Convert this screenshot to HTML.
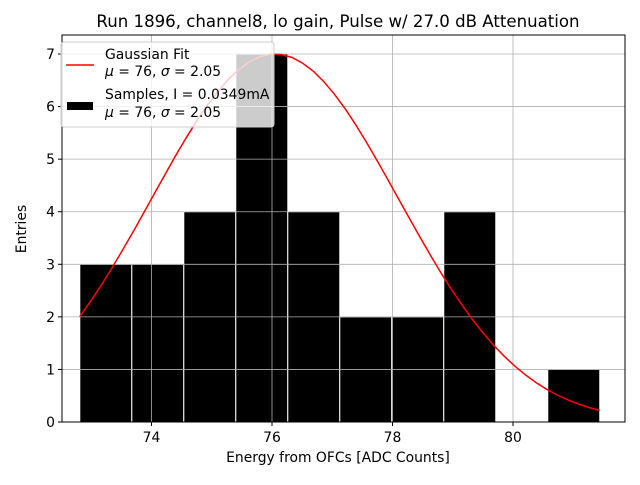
<!DOCTYPE html>
<html><head><meta charset="utf-8"><style>
body{margin:0;background:#fff;}
svg text{font-family:"DejaVu Sans","Liberation Sans",sans-serif;fill:#000;}
</style></head><body>
<svg id="chart" width="640" height="480" viewBox="0 0 640 480" xmlns="http://www.w3.org/2000/svg">
<rect width="640" height="480" fill="#fff"/>
<text x="338" y="27" font-size="16.6" text-anchor="middle">Run 1896, channel8, lo gain, Pulse w/ 27.0 dB Attenuation</text>
<g id="bars"></g>
<g id="grid"></g>
<g id="curve"></g>
<rect x="62" y="35" width="563" height="387" fill="none" stroke="#000" stroke-width="1"/>
<g id="ticks"></g>
<text x="338" y="462" font-size="13.9" text-anchor="middle">Energy from OFCs [ADC Counts]</text>
<text x="26" y="229" font-size="13.9" text-anchor="middle" transform="rotate(-90 26 229)">Entries</text>
<g>
<rect x="61" y="42" width="213" height="85" rx="3" fill="#fff" fill-opacity="0.8" stroke="#ccc" stroke-width="1"/>
<line x1="66" y1="65" x2="94" y2="65" stroke="red" stroke-width="1.5"/>
<text x="105" y="59" font-size="13.9">Gaussian Fit</text>
<text x="105" y="76" font-size="13.9"><tspan font-style="italic">μ</tspan> = 76, <tspan font-style="italic">σ</tspan> = 2.05</text>
<rect x="67" y="102" width="26" height="8" fill="#000"/>
<text x="105" y="99" font-size="13.9">Samples, I = 0.0349mA</text>
<text x="105" y="117" font-size="13.9"><tspan font-style="italic">μ</tspan> = 76, <tspan font-style="italic">σ</tspan> = 2.05</text>
</g>
</svg>
<script>
const binStart = 72.81;
const binWidth = 0.863;
const counts = [3,3,4,7,4,2,2,4,0,1];
const xTicks = [74,76,78,80];
const yTicks = [0,1,2,3,4,5,6,7];
const fitMu = 76.05, fitSigma = 2.05, fitAmp = 7.0, fitPoints = 50;
const X = v => 272 + (v - 76) * 60.25;
const Y = v => 422 - v * 52.57;
const NS = "http://www.w3.org/2000/svg";
function mk(tag, attrs, parent){const e=document.createElementNS(NS,tag);for(const k in attrs)e.setAttribute(k,attrs[k]);parent.appendChild(e);return e;}
const bars=document.getElementById('bars'),grid=document.getElementById('grid'),ticks=document.getElementById('ticks'),curve=document.getElementById('curve');
counts.forEach((c,i)=>{
  if(c<=0) return;
  const x0=X(binStart+i*binWidth),x1=X(binStart+(i+1)*binWidth);
  const r=mk('rect',{x:x0,y:Y(c),width:x1-x0,height:Y(0)-Y(c),fill:'#000',stroke:'#fff','stroke-width':1},bars);
  
  
});
xTicks.forEach(t=>{
  const g=mk('line',{x1:X(t),x2:X(t),y1:35,y2:422,stroke:'#b0b0b0','stroke-width':0.8},grid);
  
  
  mk('line',{x1:X(t),x2:X(t),y1:422,y2:426,stroke:'#000'},ticks);
  const tx=mk('text',{x:X(t),y:442,'font-size':13.9,'text-anchor':'middle'},ticks);
  tx.textContent=t;
  
  
});
yTicks.forEach(t=>{
  const g=mk('line',{x1:62,x2:625,y1:Y(t),y2:Y(t),stroke:'#b0b0b0','stroke-width':0.8},grid);
  
  
  mk('line',{x1:58,x2:62,y1:Y(t),y2:Y(t),stroke:'#000'},ticks);
  const tx=mk('text',{x:55,y:Y(t)+5,'font-size':13.9,'text-anchor':'end'},ticks);
  tx.textContent=t;
  
  
});
const xEnd=binStart+counts.length*binWidth;
let pts=[];
for(let i=0;i<fitPoints;i++){
  const v=binStart+(xEnd-binStart)*i/(fitPoints-1);
  const y=fitAmp*Math.exp(-0.5*Math.pow((v-fitMu)/fitSigma,2));
  pts.push(X(v).toFixed(1)+','+Y(y).toFixed(1));
}
const pl=mk('polyline',{points:pts.join(' '),fill:'none',stroke:'red','stroke-width':1.5},curve);


</script>
</body></html>
